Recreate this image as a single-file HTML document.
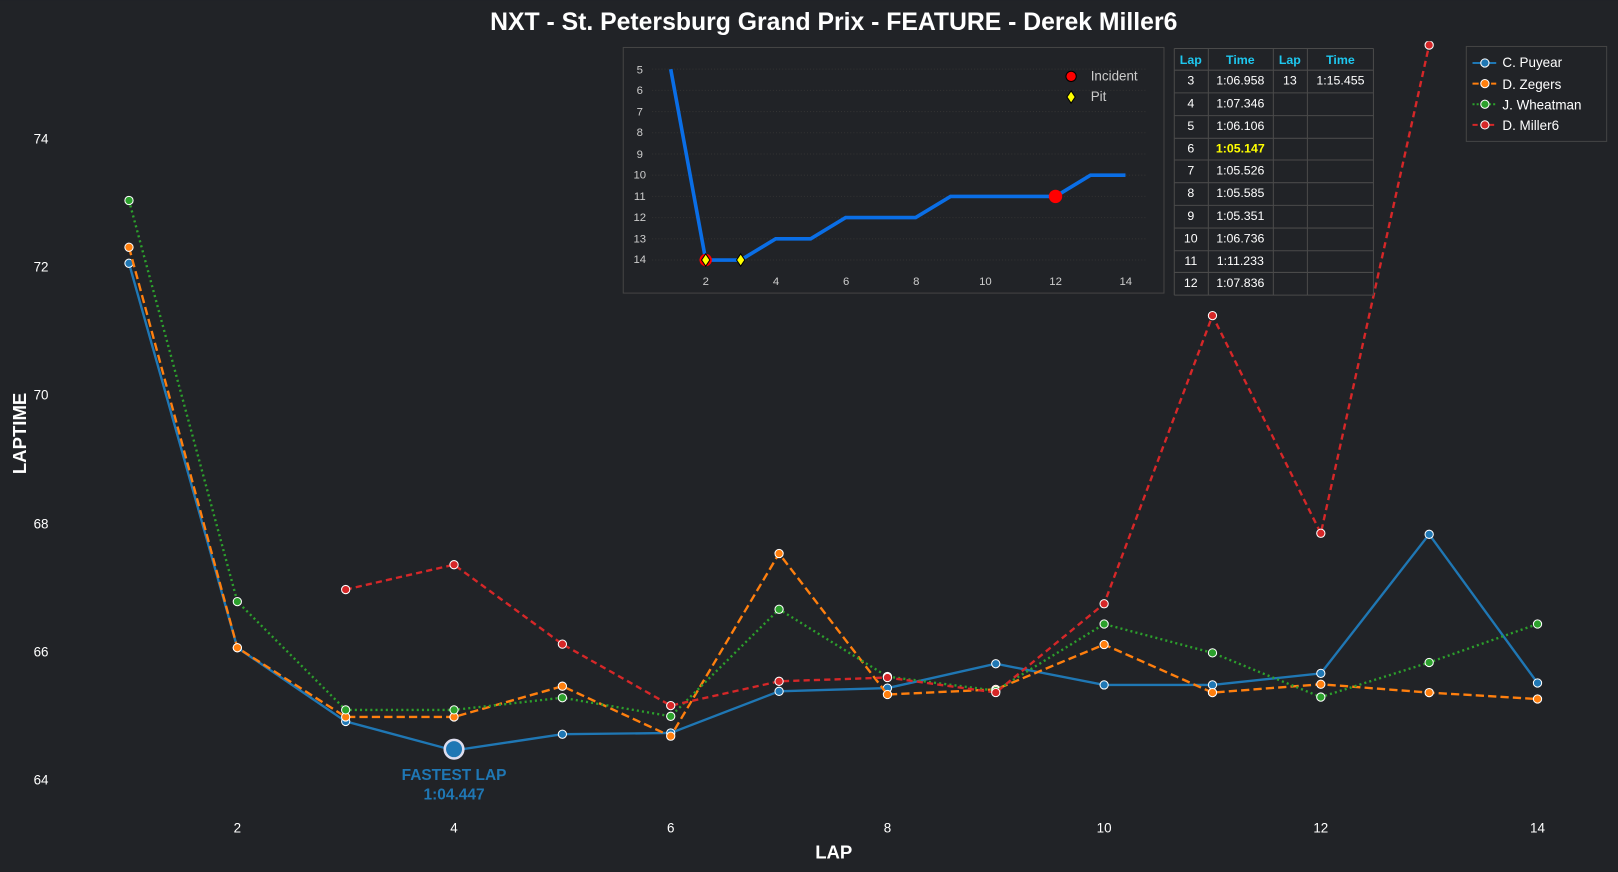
<!DOCTYPE html>
<html><head><meta charset="utf-8"><style>
html,body{margin:0;padding:0;background:#212327;}
svg{display:block}
text{font-family:"Liberation Sans",sans-serif;}
</style></head><body>
<svg id="s" width="1618" height="872" viewBox="0 0 1568 845" xmlns="http://www.w3.org/2000/svg">
<rect width="1568" height="845" fill="#212327"/>
<text x="808" y="29" text-anchor="middle" font-size="24" font-weight="bold" fill="#fff">NXT - St. Petersburg Grand Prix - FEATURE - Derek Miller6</text>
<g font-size="13" fill="#fff" text-anchor="end">
<text x="47" y="760">64</text><text x="47" y="636">66</text><text x="47" y="512">68</text>
<text x="47" y="387">70</text><text x="47" y="263">72</text><text x="47" y="139">74</text>
</g>
<g font-size="13" fill="#fff" text-anchor="middle">
<text x="230" y="807">2</text><text x="440" y="807">4</text><text x="650" y="807">6</text><text x="860" y="807">8</text>
<text x="1070" y="807">10</text><text x="1280" y="807">12</text><text x="1490" y="807">14</text>
</g>
<text x="808" y="832" text-anchor="middle" font-size="18" font-weight="bold" fill="#fff">LAP</text>
<text transform="translate(25,420) rotate(-90)" text-anchor="middle" font-size="18" font-weight="bold" fill="#fff">LAPTIME</text>
<g id="main"></g>
<circle cx="440" cy="726" r="9" fill="#1f77b4" stroke="#dde" stroke-width="2.5"/>
<text x="440" y="756" text-anchor="middle" font-size="15" font-weight="bold" fill="#1f77b4">FASTEST LAP</text>
<text x="440" y="775" text-anchor="middle" font-size="15" font-weight="bold" fill="#1f77b4">1:04.447</text>
<!-- inset -->
<rect x="604" y="46" width="524" height="238" fill="#212327" stroke="#444" stroke-width="1"/>
<g id="inset"></g>
<g font-size="11" fill="#ccc" text-anchor="middle">
<text x="620" y="71">5</text><text x="620" y="91">6</text><text x="620" y="112">7</text><text x="620" y="132">8</text>
<text x="620" y="153">9</text><text x="620" y="173">10</text><text x="620" y="194">11</text><text x="620" y="214">12</text>
<text x="620" y="235">13</text><text x="620" y="255">14</text>
<text x="684" y="276">2</text><text x="752" y="276">4</text><text x="820" y="276">6</text><text x="888" y="276">8</text>
<text x="955" y="276">10</text><text x="1023" y="276">12</text><text x="1091" y="276">14</text>
</g>
<circle cx="1038" cy="74" r="5" fill="#f00" stroke="#000"/>
<text x="1057" y="78" font-size="13" fill="#ccc">Incident</text>
<path d="M1038 88 l4 6 -4 6 -4 -6z" fill="#ff0" stroke="#000"/>
<text x="1057" y="98" font-size="13" fill="#ccc">Pit</text>
<!-- table -->
<g id="tbl"></g>
<g font-size="12" text-anchor="middle">
<g fill="#1ec8f0" font-weight="bold">
<text x="1154" y="62">Lap</text><text x="1202" y="62">Time</text><text x="1250" y="62">Lap</text><text x="1299" y="62">Time</text></g>
<g fill="#fff">
<text x="1154" y="82">3</text><text x="1202" y="82">1:06.958</text><text x="1250" y="82">13</text><text x="1299" y="82">1:15.455</text>
<text x="1154" y="104">4</text><text x="1202" y="104">1:07.346</text>
<text x="1154" y="126">5</text><text x="1202" y="126">1:06.106</text>
<text x="1154" y="148">6</text><text x="1202" y="148" fill="#ff0" font-weight="bold">1:05.147</text>
<text x="1154" y="169">7</text><text x="1202" y="169">1:05.526</text>
<text x="1154" y="191">8</text><text x="1202" y="191">1:05.585</text>
<text x="1154" y="213">9</text><text x="1202" y="213">1:05.351</text>
<text x="1154" y="235">10</text><text x="1202" y="235">1:06.736</text>
<text x="1154" y="257">11</text><text x="1202" y="257">1:11.233</text>
<text x="1154" y="278">12</text><text x="1202" y="278">1:07.836</text>
</g></g>
<!-- legend -->
<rect x="1421" y="45" width="136" height="92" fill="#212327" stroke="#444"/>
<g font-size="13" fill="#fff">
<text x="1456" y="65">C. Puyear</text><text x="1456" y="86">D. Zegers</text>
<text x="1456" y="106">J. Wheatman</text><text x="1456" y="126">D. Miller6</text></g>
<g stroke-width="2">
<line x1="1427" y1="61" x2="1450" y2="61" stroke="#1f77b4"/>
<line x1="1427" y1="81" x2="1450" y2="81" stroke="#ff7f0e" stroke-dasharray="6,3"/>
<line x1="1427" y1="101" x2="1450" y2="101" stroke="#2ca02c" stroke-dasharray="2,2"/>
<line x1="1427" y1="121" x2="1450" y2="121" stroke="#d62728" stroke-dasharray="5,3"/>
</g>
<circle cx="1439" cy="61" r="4" fill="#1f77b4" stroke="#fff"/>
<circle cx="1439" cy="81" r="4" fill="#ff7f0e" stroke="#fff"/>
<circle cx="1439" cy="101" r="4" fill="#2ca02c" stroke="#fff"/>
<circle cx="1439" cy="121" r="4" fill="#d62728" stroke="#fff"/>
</svg>
<script>
var NS="http://www.w3.org/2000/svg";
function el(p,t,a){var e=document.createElementNS(NS,t);for(var k in a)e.setAttribute(k,a[k]);p.appendChild(e);return e;}
var m=document.getElementById("main");
function X(l){return 125+(l-1)*105;}function Y(v){return 755-(v-64)*62.1;}
var S=[
["#1f77b4","",1,[72.05,66.05,64.9,64.447,64.7,64.72,65.37,65.42,65.8,65.47,65.47,65.65,67.82,65.5]],
["#ff7f0e","8,4",1,[72.3,66.05,64.97,64.97,65.45,64.67,67.52,65.32,65.4,66.1,65.35,65.48,65.35,65.25]],
["#2ca02c","2,3",1,[73.03,66.77,65.08,65.08,65.27,64.98,66.65,65.6,65.38,66.42,65.97,65.28,65.82,66.42]],
["#d62728","6,4",3,[66.958,67.346,66.106,65.147,65.526,65.585,65.351,66.736,71.233,67.836,75.455]]];
el(m,"clipPath",{id:"c"});el(document.getElementById("c"),"rect",{x:0,y:40,width:1568,height:800});
var g=el(m,"g",{"clip-path":"url(#c)"});
S.forEach(function(s){var pts=s[3].map(function(v,i){return X(s[2]+i)+","+Y(v);});
el(g,"polyline",{points:pts.join(" "),fill:"none",stroke:s[0],"stroke-width":2.3,"stroke-dasharray":s[1]});
s[3].forEach(function(v,i){el(g,"circle",{cx:X(s[2]+i),cy:Y(v),r:4,fill:s[0],stroke:"#fff","stroke-width":1});});});
var ins=document.getElementById("inset");
for(var p=5;p<=14;p++)el(ins,"line",{x1:632,x2:1112,y1:67+(p-5)*20.55,y2:67+(p-5)*20.55,stroke:"#333","stroke-dasharray":"1,2"});
var pos=[5,14,14,13,13,12,12,12,11,11,11,11,10,10];
function IX(l){return 650+(l-1)*33.9;}function IY(p){return 67+(p-5)*20.55;}
el(ins,"polyline",{points:pos.map(function(p,i){return IX(i+1)+","+IY(p);}).join(" "),fill:"none",stroke:"#0a6ee6","stroke-width":3.5});
el(ins,"circle",{cx:IX(12),cy:IY(11),r:6.5,fill:"#f00"});
el(ins,"circle",{cx:IX(2),cy:IY(14),r:6,fill:"#f00"});
[2,3].forEach(function(l){el(ins,"path",{d:"M"+IX(l)+" "+(IY(14)-6)+" l4 6 -4 6 -4 -6z",fill:"#ff0",stroke:"#000"});});
var t=document.getElementById("tbl");
var ys=[47,68,90,112,134,155,177,199,221,243,264,286];
ys.forEach(function(y){el(t,"line",{x1:1138,x2:1331,y1:y,y2:y,stroke:"#4a4a4a"});});
[1138,1171,1234,1267,1331].forEach(function(x){el(t,"line",{x1:x,x2:x,y1:47,y2:286,stroke:"#4a4a4a"});});
</script>
</body></html>
